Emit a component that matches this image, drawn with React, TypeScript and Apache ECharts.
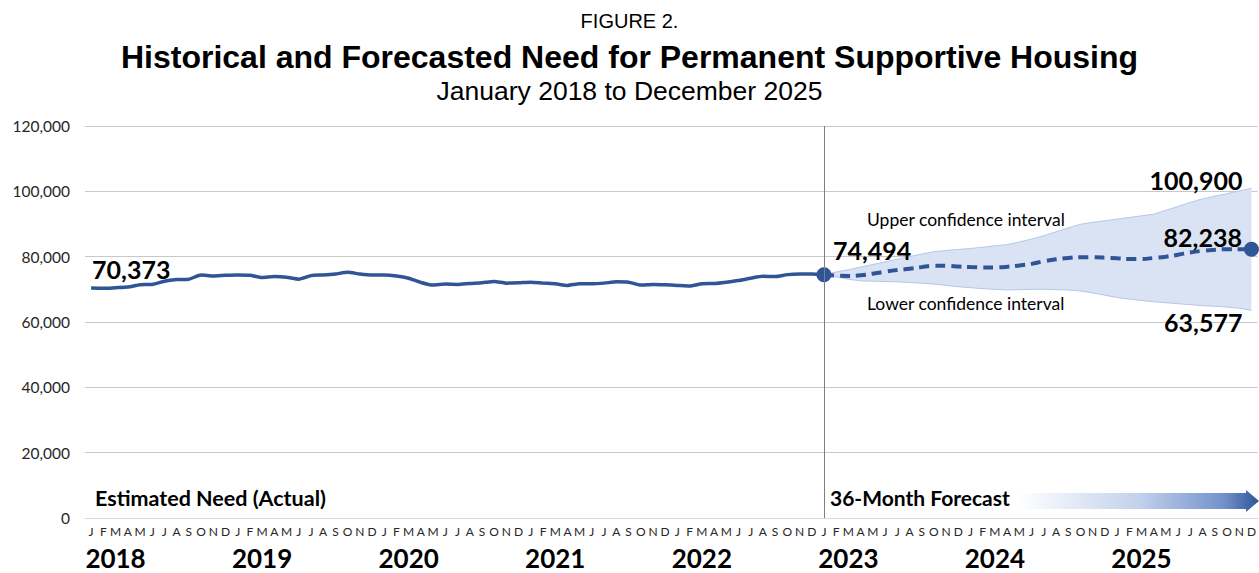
import React, { useEffect, useRef } from "react";
import * as echarts from "echarts";

const monthLetters = ["J", "F", "M", "A", "M", "J", "J", "A", "S", "O", "N", "D"];
const years = ["2018", "2019", "2020", "2021", "2022", "2023", "2024", "2025"];

// Jan 2018 – Jan 2023 (61 months)
const actual = [
  70373, 70300, 70500, 70700, 71400, 71500, 72500, 73000, 73100, 74400, 74100, 74300,
  74400, 74300, 73600, 73900, 73700, 73100, 74200, 74400, 74700, 75200, 74700, 74400,
  74400, 74100, 73400, 72100, 71300, 71600, 71500, 71800, 72000, 72400, 71900, 72000,
  72200, 71900, 71700, 71200, 71700, 71700, 71900, 72300, 72200, 71300, 71500, 71400,
  71200, 71000, 71700, 71800, 72200, 72700, 73400, 74000, 73900, 74500, 74700, 74700,
  74494,
];

// Jan 2023 – Dec 2025 (36 months)
const forecast = [
  74494, 74200, 74100, 74300, 74800, 75400, 75900, 76300, 76800, 77200, 77200, 77000,
  76800, 76700, 76700, 76900, 77300, 77800, 78600, 79200, 79600, 79800, 79800, 79700,
  79500, 79300, 79300, 79600, 80000, 80600, 81300, 81800, 82100, 82300, 82300, 82238,
];
const upperCI = [
  74494, 75300, 76000, 76800, 77600, 78400, 79200, 80000, 80800, 81500, 81900, 82200,
  82500, 82900, 83300, 83700, 84500, 85400, 86400, 87600, 88800, 89900, 90500, 91000,
  91500, 92000, 92500, 93000, 94200, 95400, 96600, 97700, 98500, 99300, 100100, 100900,
];
const lowerCI = [
  74494, 73800, 73100, 72600, 72500, 72400, 72300, 72100, 71900, 71600, 71200, 70800,
  70500, 70200, 70000, 69800, 69900, 70000, 70000, 69900, 69800, 69500, 68900, 68200,
  67500, 67000, 66600, 66200, 65900, 65600, 65300, 65000, 64800, 64600, 64200, 63577,
];

const BLUE = "#2f5597";
const NUM_FONT = "Lato, 'Open Sans', sans-serif";
const TITLE_FONT = "'Liberation Sans', Arial, sans-serif";

export default function App() {
  const ref = useRef<HTMLDivElement>(null);

  useEffect(() => {
    if (!ref.current) return;
    const chart = echarts.init(ref.current, undefined, { renderer: "svg" });

    const categories: string[] = [];
    years.forEach(() => monthLetters.forEach((m) => categories.push(m)));
    const n = categories.length;
    const fStart = actual.length - 1;
    const last = n - 1;
    const fmt = (v: number) => v.toLocaleString("en-US");

    const numLabel = {
      show: true,
      fontFamily: NUM_FONT,
      fontWeight: "bold" as const,
      fontSize: 25,
      color: "#000",
    };

    const actualData = categories.map((_, i) => {
      if (i >= actual.length) return "-";
      if (i === 0) {
        return {
          value: actual[i],
          label: { ...numLabel, position: "top", align: "left", distance: 7, offset: [1, 0], formatter: () => fmt(actual[0]) },
        };
      }
      return actual[i];
    });

    const forecastData = categories.map((_, i) => {
      if (i < fStart) return "-";
      const v = forecast[i - fStart];
      if (i === fStart) {
        return {
          value: v,
          symbolSize: 15,
          label: { ...numLabel, position: "top", align: "left", distance: 5, offset: [9, 0], formatter: () => fmt(v) },
        };
      }
      if (i === last) {
        return {
          value: v,
          symbolSize: 15,
          label: { ...numLabel, position: "left", distance: 2, offset: [0, -12], formatter: () => fmt(v) },
        };
      }
      return { value: v, symbolSize: 0 };
    });

    const lowerData = categories.map((_, i) => {
      if (i < fStart) return "-";
      const v = lowerCI[i - fStart];
      if (i === last) {
        return {
          value: v,
          label: { ...numLabel, position: "left", distance: 9, offset: [0, 12], formatter: () => fmt(v) },
        };
      }
      return v;
    });

    const diffData = categories.map((_, i) => {
      if (i < fStart) return "-";
      const u = upperCI[i - fStart];
      const l = lowerCI[i - fStart];
      if (i === last) {
        return {
          value: u - l,
          label: { ...numLabel, position: "left", distance: 9, offset: [0, -8], formatter: () => fmt(u) },
        };
      }
      return u - l;
    });

    chart.setOption({
      animation: false,
      backgroundColor: "#fff",
      title: [
        {
          text: "FIGURE 2.",
          left: "center",
          top: 6,
          textStyle: { fontFamily: TITLE_FONT, fontSize: 20, fontWeight: "normal", color: "#000" },
        },
        {
          text: "Historical and Forecasted Need for Permanent Supportive Housing",
          left: "center",
          top: 36,
          textStyle: { fontFamily: TITLE_FONT, fontSize: 32, fontWeight: "bold", color: "#000" },
        },
        {
          text: "January 2018 to December 2025",
          left: "center",
          top: 72,
          textStyle: { fontFamily: TITLE_FONT, fontSize: 26.5, fontWeight: "normal", color: "#000" },
        },
      ],
      grid: { left: 85, right: 0, top: 126, bottom: 55, containLabel: false },
      xAxis: [
        {
          type: "category",
          data: categories,
          boundaryGap: true,
          axisLine: { show: true, lineStyle: { color: "#d9d9d9", width: 1 } },
          axisTick: { show: false },
          axisLabel: { interval: 0, fontFamily: NUM_FONT, fontSize: 12, color: "#262626", margin: 7 },
          splitLine: { show: false },
        },
        {
          type: "category",
          data: categories,
          position: "bottom",
          boundaryGap: true,
          axisLine: { show: false },
          axisTick: { show: false },
          axisLabel: {
            interval: 0,
            margin: 27,
            fontFamily: NUM_FONT,
            fontWeight: "bold",
            fontSize: 26,
            color: "#000",
            formatter: (_: string, idx: number) => (idx % 12 === 2 ? years[Math.floor(idx / 12)] : ""),
          },
          splitLine: { show: false },
        },
      ],
      yAxis: {
        type: "value",
        min: 0,
        max: 120000,
        interval: 20000,
        axisLine: { show: false },
        axisTick: { show: false },
        axisLabel: { fontFamily: NUM_FONT, fontSize: 15.5, color: "#262626", margin: 15, formatter: (v: number) => fmt(v) },
        splitLine: { lineStyle: { color: "#c8c8c8", width: 1 } },
      },
      series: [
        {
          name: "Lower CI",
          type: "line",
          stack: "ci",
          data: lowerData,
          symbol: "circle",
          symbolSize: 0,
          showSymbol: true,
          showAllSymbol: true,
          lineStyle: { color: "#b4c7e7", width: 1 },
          itemStyle: { color: "#b4c7e7" },
          z: 1,
        },
        {
          name: "CI band",
          type: "line",
          stack: "ci",
          data: diffData,
          symbol: "circle",
          symbolSize: 0,
          showSymbol: true,
          showAllSymbol: true,
          lineStyle: { color: "#b4c7e7", width: 1 },
          itemStyle: { color: "#b4c7e7" },
          areaStyle: { color: "#dae3f3", opacity: 1 },
          z: 1,
        },
        {
          name: "Actual",
          type: "line",
          data: actualData,
          symbol: "circle",
          symbolSize: 0,
          showSymbol: true,
          showAllSymbol: true,
          smooth: 0.2,
          itemStyle: { color: BLUE },
          lineStyle: { color: BLUE, width: 3.5 },
          z: 3,
          markLine: {
            silent: true,
            symbol: "none",
            label: { show: false },
            lineStyle: { color: "#7f7f7f", width: 1, type: "solid" },
            data: [{ xAxis: fStart }],
          },
        },
        {
          name: "Forecast",
          type: "line",
          data: forecastData,
          symbol: "circle",
          showSymbol: true,
          showAllSymbol: true,
          smooth: 0.4,
          itemStyle: { color: BLUE },
          lineStyle: { color: BLUE, width: 4, type: [10, 6] },
          z: 4,
        },
      ],
      graphic: [
        {
          type: "text",
          left: 867,
          top: 210,
          style: { text: "Upper confidence interval", fontFamily: NUM_FONT, fontSize: 17.5, fill: "#000" },
        },
        {
          type: "text",
          left: 867,
          top: 294,
          style: { text: "Lower confidence interval", fontFamily: NUM_FONT, fontSize: 17.5, fill: "#000" },
        },
        {
          type: "text",
          left: 95,
          top: 487,
          style: { text: "Estimated Need (Actual)", fontFamily: NUM_FONT, fontWeight: "bold", fontSize: 21.5, fill: "#000" },
        },
        {
          type: "text",
          left: 830,
          top: 487,
          style: { text: "36-Month Forecast", fontFamily: NUM_FONT, fontWeight: "bold", fontSize: 21, fill: "#000" },
        },
        {
          type: "polygon",
          shape: {
            points: [
              [1018, 493],
              [1246, 493],
              [1246, 490],
              [1259, 501],
              [1246, 512],
              [1246, 509],
              [1018, 509],
            ],
          },
          style: {
            fill: new echarts.graphic.LinearGradient(0, 0, 1, 0, [
              { offset: 0, color: "#ffffff" },
              { offset: 0.5, color: "#c3d1ec" },
              { offset: 0.85, color: "#7393cc" },
              { offset: 1, color: "#2f5597" },
            ]),
          },
        },
      ],
    });

    return () => chart.dispose();
  }, []);

  return <div ref={ref} style={{ position: "fixed", left: 0, top: 0, width: 1259, height: 573 }} />;
}
